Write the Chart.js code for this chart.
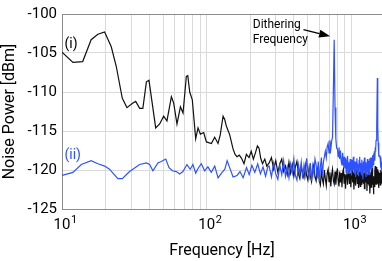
<!DOCTYPE html>
<html>
<head>
<meta charset="utf-8">
<script src="https://cdn.jsdelivr.net/npm/chart.js@4"></script>
<style>
  html, body { margin: 0; padding: 0; background: #fff; }
  #wrap { width: 382px; height: 261px; }
</style>
</head>
<body>
<div id="wrap"><canvas id="noiseChart" width="382" height="261"></canvas></div>
<script>
// (i) black trace, read at irregular frequencies below 270 Hz
const freqLowI = [10, 11.9, 13.9, 15.9, 17.7, 19.7, 21.9, 23.7, 26.1, 28.1,
  30.9, 32.3, 34.4, 36.2, 38.3, 39.9, 44.4, 47.3, 50.4, 53.1,
  57.0, 59.1, 62.3, 65.8, 68.6, 72.3, 74, 76.3, 79.5, 83.9,
  87.1, 90.4, 95.3, 99.5, 107.7, 113.5, 119.7, 124, 129.7, 133,
  136.8, 144.2, 152, 157, 162, 168, 174, 181, 188, 196,
  203, 210, 217, 224, 230, 236, 243, 252, 260];
const powerLowI = [-104.9, -106.2, -106.1, -103.3, -102.6, -102.3, -104.2, -106.7, -110.8, -112.0,
  -111.4, -111.2, -112.1, -112.1, -108.7, -108.5, -114.6, -114.1, -113.1, -113.7,
  -110.6, -111.4, -114.1, -111.9, -112.7, -108.0, -107.9, -110.0, -111.0, -116.0,
  -114.6, -115.4, -115.2, -116.4, -116.6, -115.8, -116.6, -115.5, -113.1, -113.5,
  -114.4, -115.5, -117.3, -118.0, -118.3, -118.1, -118.5, -119.2, -118.0, -118.4,
  -117.6, -118.6, -117.8, -116.9, -117.2, -118.5, -119.2, -118.6, -119.5];

// (ii) blue trace, low frequency part
const freqLowII = [10, 11.9, 13.6, 15.9, 17.7, 19.7, 21.3, 24.3, 26.1, 29.3,
  34.4, 38.3, 40.3, 42.5, 46.0, 48.5, 52.1, 54.9, 57.9, 61.7,
  65.0, 68.5, 73.0, 76.9, 80.3, 83.9, 87.1, 91.7, 96.7, 101.9,
  107.5, 113.6, 119.8, 126.4, 133.4, 138.4, 144.0, 152.1, 162, 169.8,
  178.5, 188.4, 196.5, 205, 215, 225, 235, 245, 255, 265];
const powerLowII = [-120.7, -120.3, -119.3, -118.8, -119.2, -119.5, -119.9, -121.1, -121.1, -120.2,
  -119.3, -119.1, -119.3, -120.1, -119.1, -118.9, -118.6, -119.7, -120.1, -120.2,
  -120.5, -120.2, -119.3, -119.9, -119.3, -120.4, -119.8, -119.2, -120.1, -119.6,
  -120.3, -119.5, -121.0, -120.4, -119.9, -118.8, -119.7, -120.9, -120.7, -120.2,
  -121.0, -119.7, -120.6, -119.4, -120.3, -119.2, -120.5, -119.6, -120.8, -119.5];

// shared 10 Hz grid for the noisy upper part
const freqHigh = [270, 280, 290, 300, 310, 320, 330, 340, 350, 360,
  370, 380, 390, 400, 410, 420, 430, 440, 450, 460,
  470, 480, 490, 500, 510, 520, 530, 540, 550, 560,
  570, 580, 590, 600, 610, 620, 630, 640, 650, 660,
  670, 680, 690, 700, 710, 720, 730, 740, 750, 760,
  770, 780, 790, 800, 810, 820, 830, 840, 850, 860,
  870, 880, 890, 900, 910, 920, 930, 940, 950, 960,
  970, 980, 990, 1000, 1010, 1020, 1030, 1040, 1050, 1060,
  1070, 1080, 1090, 1100, 1110, 1120, 1130, 1140, 1150, 1160,
  1170, 1180, 1190, 1200, 1210, 1220, 1230, 1240, 1250, 1260,
  1270, 1280, 1290, 1300, 1310, 1320, 1330, 1340, 1350, 1360,
  1370, 1380, 1390, 1400, 1410, 1420, 1430, 1440, 1450, 1460,
  1470, 1480, 1490, 1500, 1510, 1520, 1530, 1540, 1550, 1560,
  1570, 1580, 1590, 1600, 1610, 1620];
const powerHighI = [-119.1, -118.4, -119.9, -118.8, -120.3, -119.2, -118.6, -120.2, -119.5, -120.6,
  -119.0, -120.4, -119.3, -120.8, -119.6, -118.9, -120.5, -121.1, -119.5, -120.4,
  -121.0, -119.4, -120.7, -121.3, -119.7, -120.8, -121.5, -119.9, -119.3, -120.9,
  -121.4, -120.0, -119.5, -121.4, -121.9, -120.2, -121.2, -121.8, -120.0, -121.1,
  -122.0, -120.4, -119.9, -121.5, -120.3, -122.1, -120.6, -119.9, -121.4, -121.8,
  -120.2, -121.9, -120.6, -119.8, -121.3, -122.1, -120.2, -121.6, -120.4, -122.2,
  -120.3, -119.9, -121.7, -120.5, -122.4, -120.7, -120.0, -121.9, -120.6, -120.0,
  -121.8, -120.4, -122.2, -120.8, -119.8, -121.6, -120.3, -122.5, -120.5, -121.4,
  -122.0, -120.1, -119.9, -121.8, -120.6, -122.3, -120.2, -121.5, -122.1, -120.0,
  -121.3, -121.9, -119.7, -121.4, -121.7, -120.4, -122.4, -120.3, -120.0, -121.6,
  -120.5, -122.7, -120.7, -121.8, -120.0, -122.0, -120.6, -123.0, -121.6, -120.3,
  -122.2, -120.1, -119.7, -121.9, -120.8, -123.1, -120.9, -122.1, -120.2, -119.5,
  -121.2, -121.8, -119.6, -121.0, -121.7, -119.9, -121.1, -122.3, -120.2, -121.6,
  -120.4, -121.9, -120.0, -121.2, -121.7, -120.2];
const powerHighII = [-119.5, -120.9, -119.1, -120.5, -121.2, -119.4, -120.6, -118.8, -120.8, -119.6,
  -121.0, -119.2, -120.4, -118.6, -120.7, -121.3, -119.3, -120.5, -119.0, -121.1,
  -119.4, -120.6, -118.5, -120.2, -120.9, -119.1, -121.4, -119.5, -120.5, -118.6,
  -119.3, -121.1, -118.9, -121.5, -119.6, -118.4, -120.7, -119.0, -118.3, -117.6,
  -118.4, -117.0, -116.6, -117.8, -116.2, -117.3, -116.3, -115.8, -109.8, -103.3,
  -112.0, -116.0, -117.2, -117.3, -118.3, -117.1, -118.6, -117.5, -118.9, -119.4,
  -117.8, -119.5, -118.3, -119.8, -118.5, -120.3, -118.8, -118.2, -120.1, -119.0,
  -120.5, -118.6, -119.9, -120.7, -118.7, -120.1, -118.3, -119.7, -120.4, -118.9,
  -120.9, -119.0, -118.5, -120.3, -119.2, -120.8, -118.8, -118.3, -120.2, -119.1,
  -120.6, -118.7, -120.0, -121.2, -118.9, -120.1, -118.4, -120.4, -119.0, -120.9,
  -119.2, -120.3, -118.6, -120.7, -119.3, -118.8, -120.5, -118.5, -119.8, -118.4,
  -119.9, -118.4, -119.6, -118.1, -119.3, -117.9, -119.1, -117.6, -118.8, -117.3,
  -117.4, -116.2, -115.9, -114.6, -108.2, -114.5, -116.5, -117.0, -118.2, -118.3,
  -118.1, -118.6, -119.7, -118.3, -120.0, -118.9];

// axis ticks
const yTicks = [-125, -120, -115, -110, -105, -100];
const xGridTicks = [10, 20, 30, 40, 50, 60, 70, 80, 90, 100, 200, 300, 400, 500, 600, 700, 800, 900, 1000];
const xDecades = [10, 100, 1000];
const xExponents = ["1", "2", "3"];

const FONT = 'Roboto, "DejaVu Sans", sans-serif';
const BLUE = "#2f52ff";
const GRID = "#dadada";
const FRAME = "#8c8c8c";

function toPoints(freqs, powers) {
  return freqs.map((f, i) => ({ x: f, y: powers[i] }));
}

const dataI = toPoints(freqLowI, powerLowI).concat(toPoints(freqHigh, powerHighI));
const dataII = toPoints(freqLowII, powerLowII).concat(toPoints(freqHigh, powerHighII));

// extra drawing: top frame, exponents, series labels, arrow note
const decorPlugin = {
  id: "decor",
  afterDraw(chart) {
    const { ctx, chartArea, scales } = chart;
    const xs = scales.x;
    const ys = scales.y;
    ctx.save();

    ctx.strokeStyle = FRAME;
    ctx.lineWidth = 1;
    ctx.beginPath();
    ctx.moveTo(chartArea.left, chartArea.top + 0.5);
    ctx.lineTo(chartArea.right, chartArea.top + 0.5);
    ctx.stroke();

    ctx.fillStyle = "#000";
    ctx.font = "11px " + FONT;
    ctx.textAlign = "left";
    ctx.textBaseline = "alphabetic";
    xDecades.forEach((d, i) => {
      ctx.fillText(xExponents[i], xs.getPixelForValue(d) + 9, 223);
    });

    ctx.font = "14px " + FONT;
    ctx.textBaseline = "middle";
    ctx.fillText("(i)", xs.getPixelForValue(10.4), ys.getPixelForValue(-103.9));
    ctx.fillStyle = BLUE;
    ctx.fillText("(ii)", xs.getPixelForValue(10.4), ys.getPixelForValue(-118.1));

    ctx.fillStyle = "#000";
    ctx.font = "12px " + FONT;
    ctx.fillText("Dithering", xs.getPixelForValue(208), ys.getPixelForValue(-101.4));
    ctx.fillText("Frequency", xs.getPixelForValue(208), ys.getPixelForValue(-103.3));

    // arrow
    const x0 = xs.getPixelForValue(466), y0 = ys.getPixelForValue(-102.0);
    const x1 = xs.getPixelForValue(712), y1 = ys.getPixelForValue(-102.85);
    const ang = Math.atan2(y1 - y0, x1 - x0);
    const len = 11, half = 4;
    const bx = x1 - len * Math.cos(ang), by = y1 - len * Math.sin(ang);
    ctx.strokeStyle = "#000";
    ctx.lineWidth = 1.3;
    ctx.beginPath();
    ctx.moveTo(x0, y0);
    ctx.lineTo(bx, by);
    ctx.stroke();
    ctx.beginPath();
    ctx.moveTo(x1, y1);
    ctx.lineTo(bx + half * Math.sin(ang), by - half * Math.cos(ang));
    ctx.lineTo(bx - half * Math.sin(ang), by + half * Math.cos(ang));
    ctx.closePath();
    ctx.fill();

    ctx.restore();
  },
};

const ctx = document.getElementById("noiseChart").getContext("2d");
new Chart(ctx, {
  type: "line",
  data: {
    datasets: [
      {
        label: "(ii)",
        data: dataII,
        borderColor: BLUE,
        borderWidth: 1.2,
        pointRadius: 0,
        tension: 0,
      },
      {
        label: "(i)",
        data: dataI,
        borderColor: "#111",
        borderWidth: 1.2,
        pointRadius: 0,
        tension: 0,
      },
    ],
  },
  options: {
    responsive: false,
    animation: false,
    layout: { padding: { top: 7, right: 0, left: 0, bottom: 0 } },
    plugins: {
      legend: { display: false },
      tooltip: { enabled: false },
    },
    scales: {
      x: {
        type: "logarithmic",
        min: 10,
        max: 1626,
        afterBuildTicks: (scale) => {
          scale.ticks = xGridTicks.map((v) => ({ value: v }));
        },
        afterFit: (scale) => {
          scale.height = 52;
        },
        ticks: {
          autoSkip: false,
          maxRotation: 0,
          minRotation: 0,
          padding: 7,
          color: "#000",
          font: { family: FONT, size: 15 },
          callback: (value) => (xDecades.includes(value) ? "10" : ""),
        },
        grid: { color: GRID, drawTicks: false },
        border: { color: FRAME, width: 1 },
        title: {
          display: true,
          text: "Frequency [Hz]",
          color: "#000",
          font: { family: FONT, size: 16 },
          padding: { top: 0, bottom: 0 },
        },
      },
      y: {
        min: -125,
        max: -100,
        afterBuildTicks: (scale) => {
          scale.ticks = yTicks.map((v) => ({ value: v }));
        },
        afterFit: (scale) => {
          scale.width = 62;
        },
        ticks: {
          padding: 5,
          color: "#000",
          font: { family: FONT, size: 15 },
        },
        grid: { color: GRID, drawTicks: false },
        border: { color: FRAME, width: 1 },
        title: {
          display: true,
          text: "Noise Power [dBm]",
          color: "#000",
          font: { family: FONT, size: 16 },
          padding: { top: 0, bottom: 0 },
        },
      },
    },
  },
  plugins: [decorPlugin],
});
</script>
</body>
</html>
